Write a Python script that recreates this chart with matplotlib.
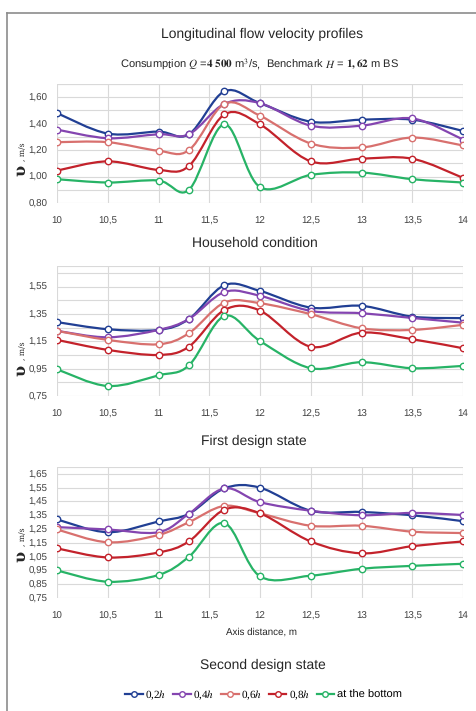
import matplotlib
matplotlib.use('Agg')
import matplotlib.pyplot as plt
import matplotlib.transforms as mtransforms
import numpy as np
from matplotlib.path import Path
from matplotlib.patches import PathPatch
from matplotlib.lines import Line2D
from matplotlib.ticker import FuncFormatter

plt.rcParams['font.family'] = ['Liberation Sans', 'DejaVu Sans']
plt.rcParams['mathtext.fontset'] = 'stix'
plt.rcParams['text.hinting'] = 'no_hinting'

# Distances along the axis (m)
distance = [10, 10.5, 11, 11.3, 11.65, 12, 12.5, 13, 13.5, 14]

series_labels = ['0,2$h$', '0,4$h$', '0,6$h$', '0,8$h$', 'at the bottom']
series_colors = ['#213f94', '#8445b0', '#d8706e', '#c3222b', '#27b366']

# Household condition
household = [
    [1.48, 1.325, 1.34, 1.32, 1.645, 1.555, 1.415, 1.43, 1.43, 1.345],
    [1.355, 1.29, 1.32, 1.32, 1.55, 1.555, 1.385, 1.385, 1.44, 1.28],
    [1.26, 1.26, 1.195, 1.20, 1.55, 1.46, 1.25, 1.22, 1.295, 1.235],
    [1.045, 1.115, 1.05, 1.08, 1.47, 1.395, 1.115, 1.135, 1.135, 0.99],
    [0.98, 0.955, 0.97, 0.90, 1.395, 0.92, 1.0125, 1.03, 0.98, 0.955],
]

# First design state
first_design = [
    [1.29, 1.238, 1.233, 1.313, 1.56, 1.518, 1.396, 1.409, 1.33, 1.319],
    [1.226, 1.179, 1.233, 1.313, 1.51, 1.482, 1.372, 1.355, 1.32, 1.286],
    [1.226, 1.16, 1.128, 1.209, 1.433, 1.428, 1.348, 1.245, 1.233, 1.27],
    [1.16, 1.087, 1.05, 1.111, 1.379, 1.374, 1.11, 1.213, 1.165, 1.099],
    [0.945, 0.823, 0.901, 0.974, 1.335, 1.152, 0.953, 0.997, 0.953, 0.97],
]

# Second design state
second_design = [
    [1.32, 1.227, 1.305, 1.361, 1.545, 1.55, 1.383, 1.374, 1.35, 1.307],
    [1.264, 1.247, 1.227, 1.361, 1.545, 1.445, 1.383, 1.35, 1.367, 1.352],
    [1.247, 1.154, 1.207, 1.30, 1.418, 1.364, 1.274, 1.274, 1.231, 1.221],
    [1.11, 1.044, 1.08, 1.161, 1.391, 1.364, 1.16, 1.074, 1.126, 1.16],
    [0.95, 0.868, 0.917, 1.049, 1.293, 0.907, 0.912, 0.962, 0.983, 0.998],
]


# Excel-like smoothed line through the points (cubic Bezier segments)
def smooth_path(x, y):
    pts = np.column_stack([x, y]).astype(float)
    n = len(pts)
    verts = [pts[0]]
    codes = [Path.MOVETO]
    for i in range(n - 1):
        p_prev = pts[i - 1] if i > 0 else pts[i]
        p_next2 = pts[i + 2] if i + 2 < n else pts[i + 1]
        c1 = pts[i] + (pts[i + 1] - p_prev) / 6.0
        c2 = pts[i + 1] - (p_next2 - pts[i]) / 6.0
        verts += [c1, c2, pts[i + 1]]
        codes += [Path.CURVE4] * 3
    return Path(verts, codes)


def draw_panel(fig, ax, data, ymin, ylabel_step, ylab_y):
    for values, color in zip(data, series_colors):
        ax.add_patch(PathPatch(smooth_path(distance, values), facecolor='none',
                               edgecolor=color, lw=1.6, zorder=3))
        ax.plot(distance, values, ls='none', marker='o', ms=4.6, mfc='white',
                mec=color, mew=1.0, zorder=4)
    ax.set_xlim(10, 14)
    ax.set_ylim(ymin, 1.70)
    ax.set_xticks(np.arange(10, 14.01, 0.5))
    ax.xaxis.set_major_formatter(FuncFormatter(lambda v, p: f'{v:g}'.replace('.', ',')))
    ax.set_yticks(np.arange(ymin, 1.70 - 1e-6, ylabel_step))
    ax.yaxis.set_major_formatter(FuncFormatter(lambda v, p: f'{v:.2f}'.replace('.', ',')))
    ax.set_yticks(np.arange(ymin, 1.701, 0.1), minor=True)
    ax.grid(True, which='both', axis='y', color='#d9d9d9', lw=0.8)
    ax.grid(True, which='major', axis='x', color='#d9d9d9', lw=0.8)
    ax.tick_params(axis='both', which='both', length=0, labelsize=7, colors='#404040')
    ax.tick_params(axis='y', pad=7)
    ax.tick_params(axis='x', pad=9.5)
    for s in ax.spines.values():
        s.set_visible(False)
    ax.axhline(1.70, color='#d9d9d9', lw=0.8)
    ax.set_axisbelow(True)
    # y label: upsilon, m/s
    base = mtransforms.blended_transform_factory(fig.transFigure, ax.transAxes)
    ax.text(21 / 476, ylab_y, 'υ', transform=base, rotation=90,
            family='DejaVu Serif', fontweight='bold', fontsize=11.5, color='#262626',
            ha='center', va='center')
    up = mtransforms.offset_copy(base, fig=fig, x=2, y=10, units='dots')
    ax.text(21 / 476, ylab_y, ', m/s', transform=up, rotation=90,
            family='DejaVu Serif', fontsize=5.5, color='#262626',
            ha='center', va='bottom')


def main():
    fig = plt.figure(figsize=(4.76, 7.11), dpi=100)
    left, width = 57 / 476, 406 / 476

    ax1 = fig.add_axes([left, 1 - 203 / 711, width, 119 / 711])
    ax2 = fig.add_axes([left, 1 - 396 / 711, width, 130 / 711])
    ax3 = fig.add_axes([left, 1 - 598 / 711, width, 131 / 711])

    draw_panel(fig, ax1, household, 0.80, 0.2, 0.27)
    draw_panel(fig, ax2, first_design, 0.75, 0.2, 0.2)
    draw_panel(fig, ax3, second_design, 0.75, 0.1, 0.32)

    # Titles
    fig.text(0.551, 1 - 34 / 711, 'Longitudinal flow velocity profiles', ha='center',
             va='center', fontsize=10, color='#262626')
    fig.text(0.545, 1 - 64 / 711,
             r'Consumption $\it{Q}$ =$\bf{4\ 500}$ m$^3$/s,  Benchmark $\it{H}$ = $\bf{1,62}$ m BS',
             ha='center', va='center', fontsize=8, color='#262626')
    fig.text(0.535, 1 - 243 / 711, 'Household condition', ha='center', va='center',
             fontsize=10, color='#262626')
    fig.text(0.533, 1 - 441 / 711, 'First design state', ha='center', va='center',
             fontsize=10, color='#262626')
    fig.text(0.549, 1 - 632 / 711, 'Axis distance, m', ha='center', va='center',
             fontsize=7, color='#262626')
    fig.text(0.552, 1 - 665 / 711, 'Second design state', ha='center', va='center',
             fontsize=10, color='#262626')

    # Legend
    handles = [Line2D([0], [0], color=c, lw=1.6, marker='o', ms=4, mfc='white', mec=c, mew=1.0)
               for c in series_colors]
    leg = fig.legend(handles, series_labels, loc='center', bbox_to_anchor=(0.553, 1 - 695 / 711),
                     ncol=5, frameon=False, fontsize=8, handlelength=1.6, handletextpad=0.2,
                     columnspacing=0.6)
    for t in leg.get_texts()[:4]:
        t.set_family('Liberation Serif')

    # Outer frame
    fig.add_artist(Line2D([7 / 476, 1], [1 - 13 / 711, 1 - 13 / 711], color='#8c8c8c', lw=1.2))
    fig.add_artist(Line2D([7 / 476, 7 / 476], [0, 1 - 13 / 711], color='#8c8c8c', lw=1.2))

    fig.savefig('out.png', dpi=100)


if __name__ == "__main__":
    main()
